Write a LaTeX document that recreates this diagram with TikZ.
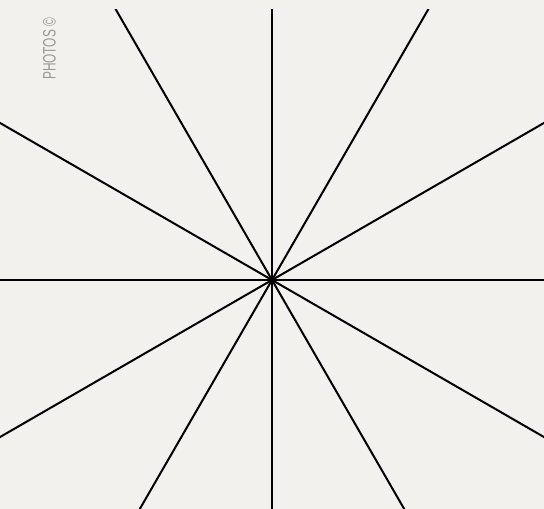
\documentclass[tikz,border=0pt]{standalone}
\usepackage{fontspec}
\setmainfont{Liberation Sans}
\usetikzlibrary{calc}
\definecolor{bg}{HTML}{F3F1ED}
\definecolor{credit}{HTML}{9A9896}
\begin{document}
\begin{tikzpicture}[x=1pt,y=1pt,
  ray/.style={line width=2pt,black},
  creditstyle/.style={text=credit,font=\fontsize{18}{18}\selectfont,rotate=90,anchor=west,inner sep=0pt,xscale=0.66}]
\fill[bg] (0,0) rectangle (544,509);
\useasboundingbox (0,0) rectangle (544,509);
\clip (0,0) rectangle (544,509);
\coordinate (c) at (272,229);
\foreach \n/\ang in {a/0,b/30,d/60,e/90,f/120,g/150,h/180,i/210,j/240,k/270,l/300,m/330}{
  \coordinate (\n) at ($(c)+(\ang:600)$);
}
\begin{scope}
\clip (0,0) rectangle (544,499);
\foreach \n in {a,b,d,e,f,g,h,i,j,k,l,m}{
  \draw[ray] (c) -- (\n);
}
\end{scope}
\node[creditstyle] (credit) at (49.5,429) {PHOTOS ©};
\end{tikzpicture}
\end{document}
